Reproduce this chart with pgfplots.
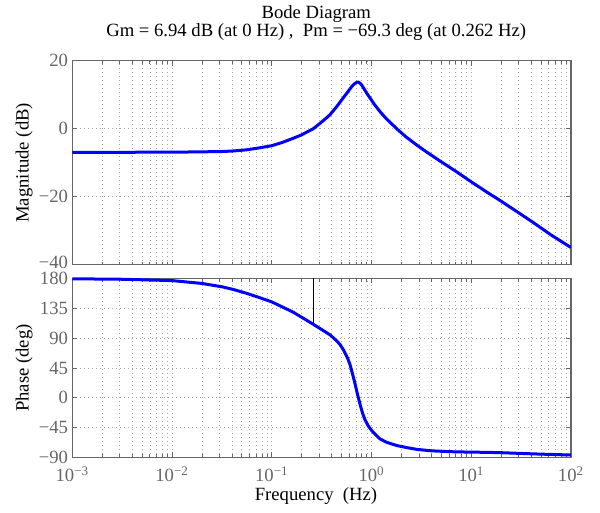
\documentclass[12pt,border=0pt]{standalone}
\usepackage{fontspec}
\setmainfont{Liberation Serif}
\usepackage{pgfplots}
\pgfplotsset{compat=1.18}
\usepackage{pgfplotstable}

\pgfplotstableread{
lf mag
-3.0 -6.94
-2.5 -6.93
-2.0 -6.90
-1.686 -6.80
-1.5 -6.70
-1.385 -6.55
-1.25 -6.20
-1.117 -5.60
-1.0 -5.00
-0.9 -4.10
-0.783 -2.80
-0.7 -1.80
-0.583 0.0
-0.515 1.6
-0.45 3.2
-0.416 4.1
-0.348 6.5
-0.3 8.4
-0.248 10.4
-0.2 12.3
-0.17 13.2
-0.15 13.6
-0.135 13.7
-0.12 13.5
-0.1 12.9
-0.07 11.5
-0.04 10.1
-0.014 9.0
0.03 7.1
0.086 5.0
0.15 2.9
0.26 -0.2
0.35 -2.5
0.454 -4.8
0.55 -6.8
0.688 -9.5
0.85 -12.6
1.0 -15.6
1.15 -18.5
1.29 -21.1
1.45 -24.2
1.624 -27.6
1.8 -31.2
2.0 -34.9
}\magtable

\pgfplotstableread{
lf ph
-3.0 179.5
-2.5 178.8
-2.0 176.8
-1.7 172.5
-1.5 167.5
-1.385 163.4
-1.25 157.5
-1.117 150.8
-1.0 144.7
-0.9 137.5
-0.783 129.0
-0.7 121.5
-0.5817 110.7
-0.5 103.0
-0.416 95.0
-0.35 86.0
-0.316 80.5
-0.28 72.0
-0.24 60.0
-0.215 50.0
-0.19 36.0
-0.166 22.0
-0.14 5.0
-0.114 -10.0
-0.09 -23.0
-0.064 -33.5
-0.03 -43.0
0.0 -49.0
0.05 -57.0
0.086 -62.0
0.15 -67.0
0.253 -72.0
0.35 -75.0
0.454 -77.8
0.6 -80.0
0.789 -81.3
1.0 -82.0
1.122 -82.2
1.3 -82.8
1.457 -83.7
1.7 -85.0
2.0 -86.3
}\phtable

\definecolor{axgray}{gray}{0.40}
\definecolor{gridgray}{gray}{0.64}

\pgfplotsset{bodestyle/.style={
  scale only axis, width=374pt,
  xmin=1e-3, xmax=1e2,
  xtick={1e-3,1e-2,1e-1,1,10,100},
  minor xtick={2e-3,3e-3,4e-3,5e-3,6e-3,7e-3,8e-3,9e-3,
    2e-2,3e-2,4e-2,5e-2,6e-2,7e-2,8e-2,9e-2,
    0.2,0.3,0.4,0.5,0.6,0.7,0.8,0.9,
    2,3,4,5,6,7,8,9,20,30,40,50,60,70,80,90},
  tick align=inside, tick pos=both,
  major tick length=3.75pt, minor tick length=2.5pt,
  tick style={axgray, line width=0.6pt},
  axis line style={axgray, line width=0.9pt},
  xmajorgrids, xminorgrids, ymajorgrids,
  major grid style={gridgray, line width=0.55pt, dash pattern=on 0.6pt off 2.4pt},
  minor grid style={gridgray, line width=0.55pt, dash pattern=on 0.6pt off 2.4pt},
  tick label style={axgray},
  yticklabel style={inner sep=0pt, xshift=-3pt},
}}

\begin{document}
\begin{tikzpicture}[font=\fontsize{14}{17}\selectfont]
\path[use as bounding box] (-54.2pt,-41.6pt) rectangle (395.8pt,343.1pt);

\begin{semilogxaxis}[bodestyle, name=mag, at={(0pt,144.45pt)}, anchor=south west,
  height=153.2pt, ymin=-40, ymax=20,
  ytick={-40,-20,0,20}, yticklabels={\raisebox{4.5pt}{−40},−20,0,20},
  xticklabels={}]
\addplot[blue, line width=2.25pt, line join=round] table[x expr={10^(\thisrow{lf})}, y=mag] {\magtable};
\end{semilogxaxis}

\begin{semilogxaxis}[bodestyle, name=ph, at={(0pt,0pt)}, anchor=south west,
  height=134.25pt, ymin=-90, ymax=180, clip=false,
  ytick={-90,-45,0,45,90,135,180}, yticklabels={−90,−45,0,45,90,135,\raisebox{-4.5pt}{180}},
  xticklabels={10\textsuperscript{−3},10\textsuperscript{−2},10\textsuperscript{−1},10\textsuperscript{0},10\textsuperscript{1},10\textsuperscript{2}},
  xticklabel style={anchor=base, yshift=-18.4pt}]
\addplot[blue, line width=2.25pt, line join=round] table[x expr={10^(\thisrow{lf})}, y=ph] {\phtable};
\addplot[black, line width=0.75pt] coordinates {(0.262,180) (0.262,110.7)};
\end{semilogxaxis}

\node[anchor=base] at (183pt,329.4pt) {Bode Diagram};
\node[anchor=base] at (183pt,315.8pt) {Gm = 6.94 dB (at 0 Hz)\ ,\ \ Pm = −69.3 deg (at 0.262 Hz)};
\node[rotate=90] at (-36pt,220.95pt) {Magnitude (dB)};
\node[rotate=90] at (-36pt,67.1pt) {Phase (deg)};
\node[anchor=base] at (182.8pt,-32.6pt) {Frequency\ \ (Hz)};
\end{tikzpicture}
\end{document}
